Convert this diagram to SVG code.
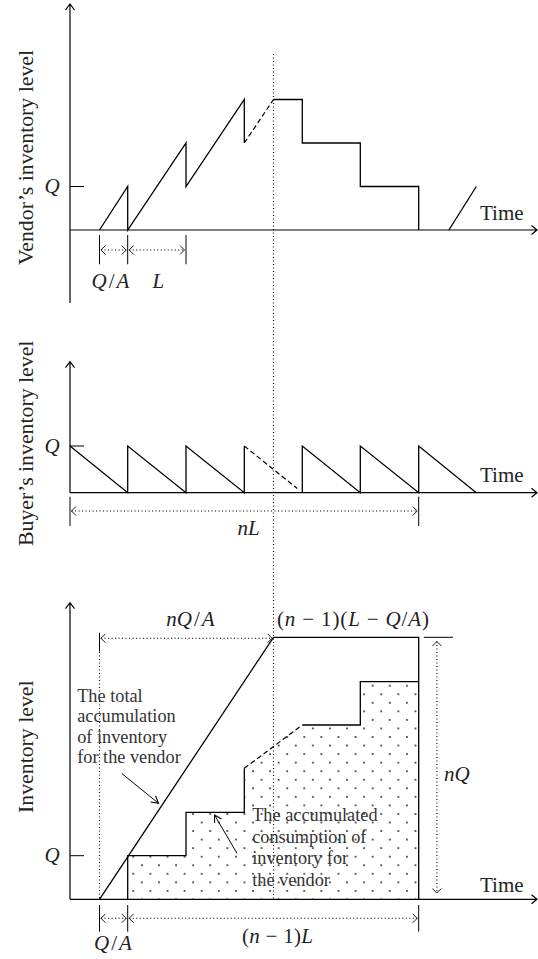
<svg xmlns="http://www.w3.org/2000/svg" width="538" height="959" viewBox="0 0 538 959">
<style>
.ln{fill:none;stroke:#000;stroke-width:1.3;stroke-linejoin:miter}
.ax{fill:none;stroke:#000;stroke-width:1.2}
.ds{fill:none;stroke:#000;stroke-width:1.2;stroke-dasharray:5 3}
.dt{fill:none;stroke:#000;stroke-width:1.1;stroke-dasharray:1.1 2.4}
.tk{fill:none;stroke:#000;stroke-width:1}
.t{font-family:"Liberation Serif","Times New Roman",serif;font-size:21px;fill:#222}
.i{font-style:italic}
.yl{font-family:"Liberation Serif","Times New Roman",serif;font-size:21.8px;fill:#222;text-anchor:middle}
.nt{font-family:"Liberation Serif","Times New Roman",serif;font-size:18.3px;fill:#333}
.dot{fill:#333}
</style>
<defs>
<marker id="dh" viewBox="-6 -6 12 12" markerWidth="12" markerHeight="12" refX="0" refY="0" orient="auto-start-reverse" markerUnits="userSpaceOnUse">
<path d="M-4.5,-4.5 L0,0 L-4.5,4.5" fill="none" stroke="#000" stroke-width="0.9"/>
</marker>
<marker id="ah" viewBox="-8 -6 10 12" markerWidth="10" markerHeight="12" refX="0" refY="0" orient="auto" markerUnits="userSpaceOnUse">
<path d="M-7,-4 L0,0 L-7,4" fill="none" stroke="#000" stroke-width="1.1"/>
</marker>
<pattern id="dots" patternUnits="userSpaceOnUse" x="133.3" y="856.7" width="17.1" height="17.1">
<circle class="dot" cx="0" cy="0" r="1.05"/>
<circle class="dot" cx="17.1" cy="0" r="1.05"/>
<circle class="dot" cx="0" cy="17.1" r="1.05"/>
<circle class="dot" cx="17.1" cy="17.1" r="1.05"/>
<circle class="dot" cx="8.55" cy="8.55" r="1.05"/>
</pattern>
</defs>

<g id="connectors">
<line class="dt" x1="273.5" y1="54" x2="273.5" y2="899"/>
</g>

<g id="vendor-chart">
<path class="ax" d="M70,303 V4 M65.5,10 L70,4 L74.5,10"/>
<path class="ax" d="M70,230 H537 M531.5,225.5 L537,230 L531.5,234.5"/>
<line class="tk" x1="70" y1="186.5" x2="84" y2="186.5"/>
<text class="t i" x="44.5" y="193">Q</text>
<path class="ln" d="M99.5,230 L127.7,186.5 V230 L186,143 V186.5 L244.3,99.5 V143"/>
<path class="ds" d="M244.3,143 L273.5,99.5"/>
<path class="ln" d="M273.5,99.5 H302.3 V143 H360.3 V186.5 H418.7 V230"/>
<path class="ln" d="M448.9,230 L476.3,186.5"/>
<text class="t" x="480" y="220">Time</text>
<path class="tk" d="M99.5,235 V264.3 M127.7,235 V264.3 M186,235 V264.3"/>
<line class="dt" x1="101" y1="250" x2="126.2" y2="250" marker-start="url(#dh)" marker-end="url(#dh)"/>
<line class="dt" x1="129.2" y1="250" x2="184.5" y2="250" marker-start="url(#dh)" marker-end="url(#dh)"/>
<text class="t" x="91.5" y="287.5"><tspan class="i">Q</tspan><tspan dx="2">/</tspan><tspan class="i" dx="2">A</tspan></text>
<text class="t i" x="152.5" y="287.5">L</text>
<text class="yl" transform="translate(33.3,157.5) rotate(-90)">Vendor’s inventory level</text>
</g>

<g id="buyer-chart">
<path class="ax" d="M70,492.7 V361.7 M65.5,367.7 L70,361.7 L74.5,367.7"/>
<path class="ax" d="M70,492.7 H537 M531.5,488.2 L537,492.7 L531.5,497.2"/>
<line class="tk" x1="70" y1="446" x2="84" y2="446"/>
<text class="t i" x="44.5" y="452.7">Q</text>
<path class="ln" d="M70,446 L127.7,492.7 V446 L186,492.7 V446 L244.3,492.7 V446"/>
<path class="ds" d="M244.3,446 L297.2,488.5"/>
<path class="ln" d="M302.3,492.7 V446 L360.3,492.7 V446 L418.7,492.7 V446 L476.3,492.7"/>
<text class="t" x="480" y="481.7">Time</text>
<path class="tk" d="M70,496.7 V526 M418.7,496.7 V526"/>
<line class="dt" x1="71.5" y1="511" x2="417.2" y2="511" marker-start="url(#dh)" marker-end="url(#dh)"/>
<text class="t i" x="237.5" y="535">nL</text>
<text class="yl" transform="translate(33.3,443.3) rotate(-90)">Buyer’s inventory level</text>
</g>

<g id="accum-chart">
<path d="M127.7,899.3 V855.7 H186 V812.3 H244.3 V768.3 L302.3,725 H360.3 V681.7 H418.7 V899.3 Z" fill="url(#dots)" stroke="none"/>
<path class="ax" d="M70,899.3 V602.7 M65.5,608.7 L70,602.7 L74.5,608.7"/>
<path class="ax" d="M70,899.3 H537 M531.5,894.8 L537,899.3 L531.5,903.8"/>
<line class="tk" x1="70" y1="855.7" x2="84" y2="855.7"/>
<text class="t i" x="44.5" y="862">Q</text>
<path class="ln" d="M99.5,899.3 L273.5,637.3 H418.7 V899.3"/>
<path class="ln" d="M127.7,899.3 V855.7 H186 V812.3 H244.3 V768.3"/>
<path class="ds" d="M244.3,768.3 L302.3,725"/>
<path class="ln" d="M302.3,725 H360.3 V681.7 H418.7"/>
<line class="tk" x1="423.8" y1="637.3" x2="453" y2="637.3"/>
<line class="dt" x1="436.9" y1="641.5" x2="436.9" y2="893" marker-start="url(#dh)" marker-end="url(#dh)"/>
<text class="t i" x="444" y="780.7">nQ</text>
<line class="dt" x1="99.5" y1="652" x2="99.5" y2="899"/>
<line class="tk" x1="99.5" y1="632.7" x2="99.5" y2="651.7"/>
<line class="dt" x1="101" y1="638.3" x2="272" y2="638.3" marker-start="url(#dh)" marker-end="url(#dh)"/>
<text class="t" x="190.5" y="626" text-anchor="middle"><tspan class="i">nQ</tspan><tspan dx="2">/</tspan><tspan class="i" dx="2">A</tspan></text>
<text class="t" x="277" y="626" textLength="152" lengthAdjust="spacing">(<tspan class="i">n</tspan> − 1)(<tspan class="i">L</tspan> − <tspan class="i">Q</tspan>/<tspan class="i">A</tspan>)</text>
<text class="t" x="480" y="891.7">Time</text>
<path class="tk" d="M99.5,905 V931.7 M127.7,905 V931.7 M418.7,905 V931.7"/>
<line class="dt" x1="101" y1="918.3" x2="126.2" y2="918.3" marker-start="url(#dh)" marker-end="url(#dh)"/>
<line class="dt" x1="129.2" y1="918.3" x2="417.2" y2="918.3" marker-start="url(#dh)" marker-end="url(#dh)"/>
<text class="t" x="94" y="950"><tspan class="i">Q</tspan><tspan dx="2">/</tspan><tspan class="i" dx="2">A</tspan></text>
<text class="t" x="242" y="943.3" textLength="71" lengthAdjust="spacing">(<tspan class="i">n</tspan> − 1)<tspan class="i">L</tspan></text>
<text class="yl" transform="translate(33.3,746.7) rotate(-90)">Inventory level</text>
</g>

<g id="note-total">
<text class="nt" x="77.2" y="701.5">The total</text>
<text class="nt" x="77.2" y="722">accumulation</text>
<text class="nt" x="77.2" y="742.5">of inventory</text>
<text class="nt" x="77.2" y="763">for the vendor</text>
<line class="tk" x1="121.8" y1="773.5" x2="158.5" y2="803.3" stroke-width="1.1" marker-end="url(#ah)"/>
</g>

<g id="note-consumption">
<text class="nt" x="252.2" y="821">The accumulated</text>
<text class="nt" x="252.2" y="842.5">consumption of</text>
<text class="nt" x="252.2" y="864">inventory for</text>
<text class="nt" x="252.2" y="885.5">the vendor</text>
<line class="tk" x1="237" y1="853.3" x2="214.5" y2="815" stroke-width="1.1" marker-end="url(#ah)"/>
</g>
</svg>
